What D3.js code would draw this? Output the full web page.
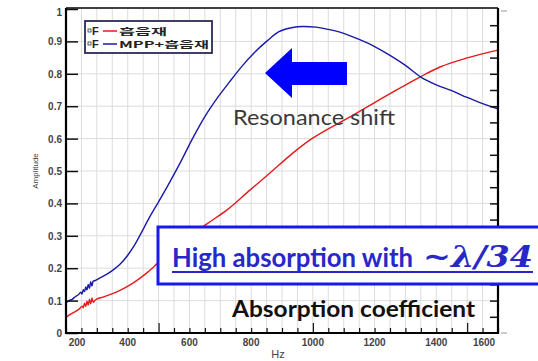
<!DOCTYPE html>
<html>
<head>
<meta charset="utf-8">
<script src="https://cdn.jsdelivr.net/npm/d3@7"></script>
<style>
  body { margin: 0; background: #fff; }
  svg { display: block; }
</style>
</head>
<body>
<div id="chart"></div>
<script>
// --- data (Hz, amplitude)
const freqBlue = [200, 210, 220, 230, 240, 248, 252, 256, 260, 264, 268, 272, 276, 280, 284, 288, 295, 310, 330, 352, 375, 400, 420, 440, 470, 500, 530, 570, 610, 650, 690, 730, 770, 810, 850, 890, 930, 970, 1010, 1050, 1100, 1150, 1200, 1250, 1300, 1350, 1400, 1450, 1500, 1550, 1600];
const ampBlue = [0.093, 0.100, 0.104, 0.112, 0.118, 0.126, 0.120, 0.134, 0.128, 0.142, 0.133, 0.150, 0.138, 0.158, 0.145, 0.160, 0.162, 0.170, 0.180, 0.194, 0.212, 0.240, 0.268, 0.302, 0.356, 0.405, 0.455, 0.525, 0.600, 0.668, 0.725, 0.775, 0.823, 0.865, 0.900, 0.930, 0.942, 0.946, 0.944, 0.937, 0.925, 0.906, 0.884, 0.857, 0.826, 0.790, 0.766, 0.748, 0.727, 0.708, 0.692];

const freqRed = [200, 215, 230, 245, 252, 256, 260, 264, 268, 272, 276, 280, 284, 288, 295, 320, 365, 417, 460, 500, 555, 600, 657, 722, 796, 861, 936, 991, 1050, 1100, 1175, 1260, 1347, 1412, 1500, 1600];
const ampRed = [0.048, 0.058, 0.066, 0.076, 0.083, 0.078, 0.092, 0.082, 0.098, 0.086, 0.104, 0.090, 0.108, 0.095, 0.102, 0.111, 0.127, 0.154, 0.184, 0.218, 0.262, 0.297, 0.337, 0.380, 0.441, 0.494, 0.556, 0.596, 0.630, 0.656, 0.697, 0.744, 0.790, 0.821, 0.849, 0.873];

const xTicks = [200, 400, 600, 800, 1000, 1200, 1400, 1600];
const yTicks = [0, 0.1, 0.2, 0.3, 0.4, 0.5, 0.6, 0.7, 0.8, 0.9, 1];
const legendLabels = ["\uD761\uC74C\uC7AC", "MPP+\uD761\uC74C\uC7AC"];
const seriesColors = ["#e41a1c", "#1a1aa8"];

const W = 538, H = 361;
const mLeft = 66, mRight = 498, mTop = 9, mBottom = 333;

const svg = d3.select("#chart").append("svg")
  .attr("width", W).attr("height", H)
  .style("font-family", "'Liberation Sans', Arial, sans-serif");

const x = d3.scaleLinear().domain([200, 1600]).range([mLeft, mRight]);
const y = d3.scaleLinear().domain([0, 1]).range([mBottom, mTop]);

// grid
const grid = svg.append("g").attr("stroke", "#dcdcdc").attr("stroke-width", 1);
grid.selectAll(".gx").data(d3.range(250, 1600, 50)).join("line")
  .attr("x1", d => x(d)).attr("x2", d => x(d))
  .attr("y1", mTop).attr("y2", mBottom);
grid.selectAll(".gy").data(d3.range(0.1, 1, 0.1)).join("line")
  .attr("x1", mLeft).attr("x2", mRight)
  .attr("y1", d => y(d)).attr("y2", d => y(d));

// curves
const line = d3.line().curve(d3.curveMonotoneX).x(d => x(d[0])).y(d => y(d[1]));
const redData = freqRed.map((f, i) => [f, ampRed[i]]);
const blueData = freqBlue.map((f, i) => [f, ampBlue[i]]);

svg.append("path").datum(redData)
  .attr("fill", "none").attr("stroke", seriesColors[0]).attr("stroke-width", 1.4)
  .attr("d", line);
svg.append("path").datum(blueData)
  .attr("fill", "none").attr("stroke", seriesColors[1]).attr("stroke-width", 1.4)
  .attr("d", line);

// axes (ticks point inward like the original plot)
const xAxis = svg.append("g").attr("transform", `translate(0,${mBottom})`)
  .call(d3.axisBottom(x).tickValues(d3.range(200, 1601, 50))
    .tickSize(0).tickFormat(""));
xAxis.select(".domain").remove();
xAxis.selectAll(".tick line").attr("y2", d => d % 500 === 0 ? -10 : -5)
  .attr("stroke", "#111").attr("stroke-width", 1.2);

svg.append("g").selectAll("text").data(xTicks).join("text")
  .attr("x", d => d === 200 ? x(d) + 11 : d === 1600 ? x(d) - 14 : x(d))
  .attr("y", 346)
  .attr("text-anchor", "middle")
  .attr("font-size", 10).attr("font-weight", "bold").attr("fill", "#444")
  .text(d => d);

const yAxis = svg.append("g").attr("transform", `translate(${mLeft},0)`)
  .call(d3.axisLeft(y).tickValues(yTicks).tickSize(0).tickPadding(4)
    .tickFormat(d => d === 0 ? "0" : d === 1 ? "1" : d3.format(".1f")(d)));
yAxis.select(".domain").remove();
yAxis.selectAll(".tick line").attr("x2", 12).attr("stroke", "#111").attr("stroke-width", 1.5);
yAxis.selectAll(".tick text")
  .attr("font-size", 10).attr("font-weight", "bold").attr("fill", "#444")
  .attr("font-family", "'Liberation Sans', Arial, sans-serif")
  .attr("dy", d => d === 1 ? "0.65em" : "0.35em");

const yRight = svg.append("g").attr("transform", `translate(${mRight},0)`)
  .call(d3.axisRight(y).tickValues(d3.range(0.05, 1, 0.05)).tickSize(0).tickFormat(""));
yRight.select(".domain").remove();
yRight.selectAll(".tick line").attr("x2", -8).attr("stroke", "#111").attr("stroke-width", 1.5);

// frame
const frame = svg.append("g").attr("stroke", "#000").attr("fill", "none");
frame.append("line").attr("x1", mLeft).attr("x2", mLeft).attr("y1", mTop - 1).attr("y2", mBottom + 1).attr("stroke-width", 2.2);
frame.append("line").attr("x1", mLeft - 1).attr("x2", mRight + 1).attr("y1", mBottom).attr("y2", mBottom).attr("stroke-width", 2.2);
frame.append("line").attr("x1", mLeft).attr("x2", mRight).attr("y1", mTop - 1).attr("y2", mTop - 1).attr("stroke-width", 1.6);
frame.append("line").attr("x1", mRight).attr("x2", mRight).attr("y1", mTop - 1).attr("y2", mBottom + 1).attr("stroke-width", 2.2);
svg.append("line").attr("x1", mRight + 3).attr("x2", mRight + 9).attr("y1", mTop + 2).attr("y2", mTop + 2).attr("stroke", "#999");
svg.append("line").attr("x1", mRight + 3).attr("x2", mRight + 9).attr("y1", mBottom).attr("y2", mBottom).attr("stroke", "#999");

// axis titles
svg.append("text")
  .attr("transform", `translate(38,171) rotate(-90)`)
  .attr("text-anchor", "middle").attr("font-size", 8).attr("fill", "#444")
  .text("Amplitude");
svg.append("text")
  .attr("x", 278).attr("y", 358).attr("text-anchor", "middle")
  .attr("font-size", 11).attr("fill", "#444")
  .text("Hz");

// legend
const lg = svg.append("g");
lg.append("rect").attr("x", 85).attr("y", 21).attr("width", 127).attr("height", 32)
  .attr("fill", "#fff").attr("stroke", "#2a2a5a").attr("stroke-width", 1.8);
const legendEnds = [167, 209];
legendLabels.forEach((lab, i) => {
  const ly = 31 + i * 13;
  lg.append("rect").attr("x", 88).attr("y", ly - 2).attr("width", 3).attr("height", 3)
    .attr("fill", "none").attr("stroke", "#333").attr("stroke-width", 0.8);
  lg.append("text").attr("x", 92).attr("y", ly + 4).attr("font-size", 11).attr("font-weight", "bold")
    .attr("fill", "#222").text("F");
  lg.append("line").attr("x1", 103).attr("x2", 117).attr("y1", ly).attr("y2", ly)
    .attr("stroke", seriesColors[i]).attr("stroke-width", 1.5);
  lg.append("text").attr("x", 119).attr("y", ly + 4)
    .attr("font-family", "'Noto Sans CJK KR', sans-serif")
    .attr("font-size", 9).attr("font-weight", "bold").attr("fill", "#222")
    .attr("textLength", legendEnds[i] - 119).attr("lengthAdjust", "spacingAndGlyphs")
    .text(lab);
});

// resonance shift arrow
svg.append("polygon")
  .attr("points", [[265, 73], [292, 48], [292, 62], [347, 62], [347, 85], [292, 85], [292, 98]].join(" "))
  .attr("fill", "#0000ff");
svg.append("text").attr("x", 233).attr("y", 125)
  .attr("font-family", "Lato, 'Open Sans', sans-serif")
  .attr("font-size", 22).attr("fill", "#3a3a3a")
  .attr("textLength", 162).attr("lengthAdjust", "spacingAndGlyphs")
  .text("Resonance shift");

// highlight box
svg.append("rect").attr("x", 158).attr("y", 227).attr("width", 400).attr("height", 57)
  .attr("fill", "#fff").attr("stroke", "#1818f0").attr("stroke-width", 3);
svg.append("text").attr("x", 172).attr("y", 267)
  .attr("font-family", "Lato, sans-serif").attr("font-weight", "bold")
  .attr("font-size", 27).attr("fill", "#2828c8")
  .attr("textLength", 241).attr("lengthAdjust", "spacingAndGlyphs")
  .text("High absorption with");
svg.append("text").attr("x", 423).attr("y", 267)
  .attr("font-family", "'DejaVu Serif', serif").attr("font-style", "italic")
  .attr("font-weight", "bold")
  .attr("font-size", 30).attr("fill", "#2828c8")
  .attr("textLength", 110).attr("lengthAdjust", "spacingAndGlyphs")
  .text("~\u03BB/34");
svg.append("line").attr("x1", 172).attr("x2", 533).attr("y1", 272).attr("y2", 272)
  .attr("stroke", "#2828c8").attr("stroke-width", 2);

svg.append("text").attr("x", 232).attr("y", 317)
  .attr("font-family", "Lato, sans-serif").attr("font-weight", "bold")
  .attr("font-size", 22).attr("fill", "#111")
  .attr("textLength", 243).attr("lengthAdjust", "spacingAndGlyphs")
  .text("Absorption coefficient");
</script>
</body>
</html>
